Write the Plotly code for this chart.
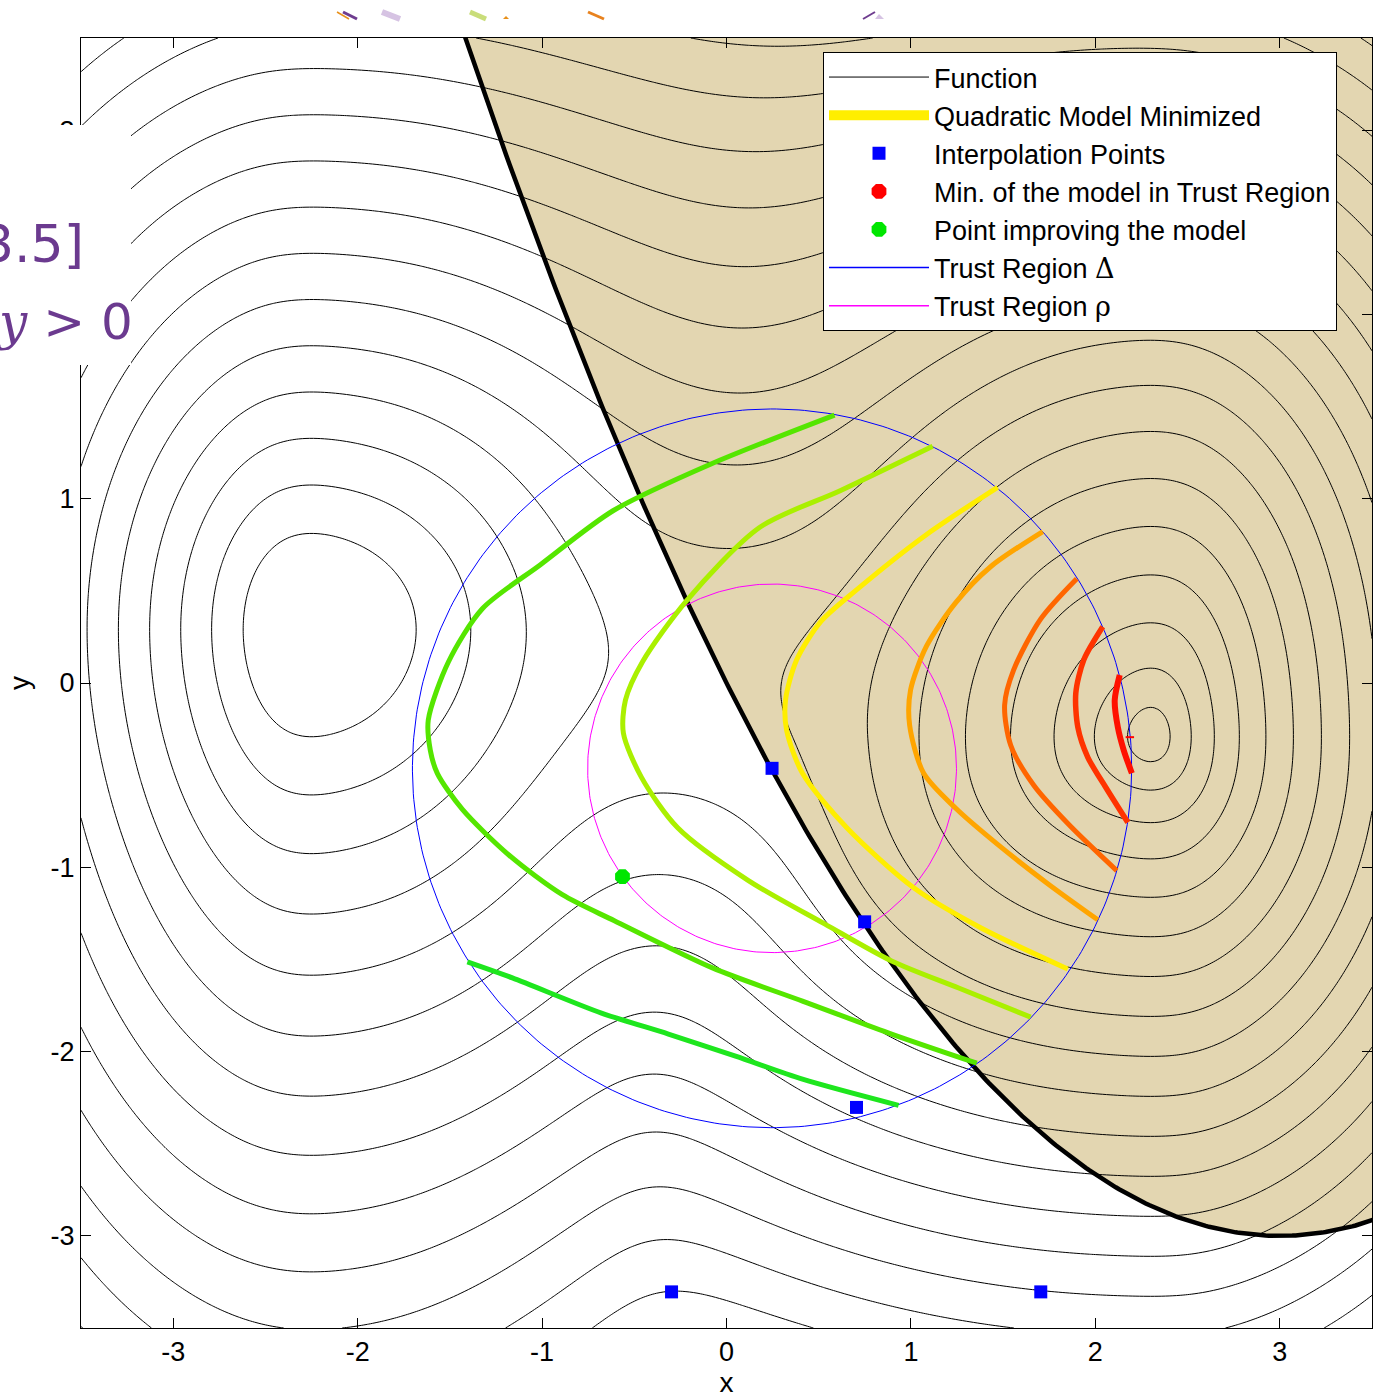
import numpy as np
import plotly.graph_objects as go

# ---------------- axes ----------------
x_range = [-3.5, 3.5]
y_range = [-3.5, 3.5]
tick_vals = [-3, -2, -1, 0, 1, 2, 3]
x_tick_text = ["-3", "-2", "-1", "0", "1", "2", "3"]
y_tick_text = ["-3", "-2", "-1", "0", "1", "", "3"]   # "2" is hidden behind the slide panel

# ---------------- objective function (contours) ----------------
left_center = [-2.25, 0.29]
left_scales = [0.68, 1.10, 1.10, 1.0]        # left, right(inward), down(near), up
left_inward_bottom = 0.80                    # inward scale far below the well
left_down_far = 1.25
left_base = 2.84
left_slope = 4.0
left_flat = 0.33
right_center = [2.30, -0.29]
right_scales = [0.25, 0.154, 0.217, 0.303]   # left(inward), right, down, up
right_inward_top = 0.22
right_inward_bottom = 0.30
right_up_bend = 0.06
saddle_center = [-0.1, 0.05]
saddle_soft = [0.7, 3.5]                     # softmin temperature far / at saddle
saddle_width = 1.3
top_soft = 1.6                               # extra smoothing of the ridge towards the top
top_soft_from = 1.1
contour_start, contour_end, contour_step = 1, 30, 1

# ---------------- constraint (shaded feasible region) ----------------
constraint_vertex = [3.0, -3.0]
constraint_coef = 1.0 / 3.0

# ---------------- trust region ----------------
tr_center = [0.247, -0.463]
tr_delta = 1.95
tr_rho = 1.0

interp_x = [0.247, 0.749, 0.705, -0.298, 1.704]
interp_y = [-0.463, -1.296, -2.303, -3.304, -3.304]
improve_x = [-0.564]
improve_y = [-1.051]
modelmin_x = [2.187]
modelmin_y = [-0.294]

# ---------------- quadratic-model level arcs (inside trust region) ----------------
arc_colors = ["#1EE61E", "#55E600", "#AAF000", "#FFEE00", "#FFA500", "#FF6600", "#FF3300", "#FF1100"]
arc1_x = [-1.405, -1.161, -0.678, -0.315, 0.049, 0.412, 0.933]
arc1_y = [-1.513, -1.600, -1.791, -1.905, -2.025, -2.150, -2.292]
arc2_x = [0.586, -0.087, -0.613, -1.009, -1.324, -1.508, -1.617, -1.606, -1.568, -1.432, -1.177, -0.890, -0.608, -0.076, 0.412, 0.895, 1.357]
arc2_y = [1.454, 1.187, 0.936, 0.642, 0.403, 0.114, -0.201, -0.365, -0.490, -0.686, -0.936, -1.149, -1.290, -1.546, -1.726, -1.905, -2.063]
arc3_x = [1.118, 0.619, 0.179, -0.217, -0.456, -0.548, -0.559, -0.461, -0.266, 0.119, 0.532, 0.895, 1.259, 1.649]
arc3_y = [1.285, 1.045, 0.844, 0.446, 0.114, -0.093, -0.272, -0.512, -0.784, -1.072, -1.307, -1.508, -1.655, -1.813]
arc4_x = [1.470, 1.085, 0.700, 0.510, 0.380, 0.320, 0.326, 0.412, 0.651, 1.015, 1.378, 1.850]
arc4_y = [1.062, 0.806, 0.501, 0.332, 0.125, -0.093, -0.256, -0.490, -0.784, -1.111, -1.328, -1.552]
arc5_x = [1.715, 1.432, 1.243, 1.085, 0.998, 0.993, 1.069, 1.243, 1.470, 1.742, 2.013]
arc5_y = [0.822, 0.631, 0.436, 0.201, -0.038, -0.229, -0.490, -0.680, -0.876, -1.089, -1.285]
arc6_x = [1.899, 1.704, 1.557, 1.508, 1.541, 1.666, 1.856, 2.116]
arc6_y = [0.566, 0.348, 0.071, -0.120, -0.338, -0.555, -0.768, -1.018]
arc7_x = [2.040, 1.937, 1.894, 1.905, 1.959, 2.056, 2.176]
arc7_y = [0.305, 0.125, -0.054, -0.240, -0.403, -0.566, -0.757]
arc8_x = [2.132, 2.105, 2.122, 2.154, 2.198]
arc8_y = [0.044, -0.093, -0.240, -0.365, -0.490]
arcs_x = [arc1_x, arc2_x, arc3_x, arc4_x, arc5_x, arc6_x, arc7_x, arc8_x]
arcs_y = [arc1_y, arc2_y, arc3_y, arc4_y, arc5_y, arc6_y, arc7_y, arc8_y]
arc_widths = [5, 5, 5, 5, 5, 5, 5.5, 6]

legend_names = [
    "Function",
    "Quadratic Model Minimized",
    "Interpolation Points",
    "Min. of the model in Trust Region",
    "Point improving the model",
    "Trust Region <span style=\"font-family:'DejaVu Serif'\">\u0394</span>",
    "Trust Region <span style=\"font-family:'DejaVu Serif'\">\u03c1</span>",
]

TAN = "#E3D6B1"
FONT = "Liberation Sans, Arial, sans-serif"


def blend(v, neg, pos, w=0.3):
    return neg + (pos - neg) * 0.5 * (1.0 + np.tanh(v / w))


gx = np.linspace(x_range[0], x_range[1], 351)
gy = np.linspace(y_range[0], y_range[1], 351)
X, Y = np.meshgrid(gx, gy)

# left (shallow, flat-bottomed) well
d1x, d1y = X - left_center[0], Y - left_center[1]
dn1 = np.minimum(d1y, 0.0)
below_near = 1.0 - np.exp(-(dn1 / 1.5) ** 2)
below_far = 1.0 - np.exp(-(dn1 / 3.0) ** 4)
s1_in = left_scales[1] - (left_scales[1] - left_inward_bottom) * below_far
s1_dn = left_scales[2] + (left_down_far - left_scales[2]) * below_near
s1x = blend(d1x, left_scales[0], s1_in)
s1y = blend(d1y, s1_dn, left_scales[3])
r1 = np.sqrt((d1x / s1x) ** 2 + (d1y / s1y) ** 2)
U1 = left_base + left_slope * (r1 ** 4 + left_flat ** 4) ** 0.25

# right (deep, cone-like) well
d2x, d2y = X - right_center[0], Y - right_center[1]
far2 = 1.0 - np.exp(-(d2y / 1.5) ** 2)
s2_far = np.where(d2y > 0, right_inward_top, right_inward_bottom)
s2_in = right_scales[0] + (s2_far - right_scales[0]) * far2
d2y_w = np.where(d2y > 0, d2y * (1 + right_up_bend * d2y), d2y)
s2x = blend(d2x, s2_in, right_scales[1])
s2y = blend(d2y, right_scales[2], right_scales[3])
r2 = np.sqrt((d2x / s2x) ** 2 + (d2y_w / s2y) ** 2)
U2 = r2 + 1.0 - np.exp(-r2)

# smooth minimum of the two wells (wider smoothing near the saddle and the top)
T = saddle_soft[0] + top_soft * 0.5 * (1 + np.tanh((Y - top_soft_from) / 0.7)) + \
    (saddle_soft[1] - saddle_soft[0]) * np.exp(
        -((X - saddle_center[0]) ** 2 + (Y - saddle_center[1]) ** 2) / saddle_width ** 2)
F = -T * np.logaddexp(-U1 / T, -U2 / T)

fig = go.Figure()

# feasible region boundary
cx = np.linspace(-1.7, 3.7, 300)
cy = constraint_coef * (cx - constraint_vertex[0]) ** 2 + constraint_vertex[1]
tan_path = "M " + " L ".join("%.4f,%.4f" % (a, b) for a, b in zip(cx, cy))
tan_path += " L %.4f,%.4f L %.4f,%.4f Z" % (cx[-1], y_range[1] + 0.5, cx[0], y_range[1] + 0.5)

fig.add_trace(go.Contour(
    x=gx, y=gy, z=F, autocontour=False,
    contours=dict(start=contour_start, end=contour_end, size=contour_step, coloring="none"),
    line=dict(color="black", width=1, smoothing=1.0),
    showscale=False, hoverinfo="skip", showlegend=False))

fig.add_trace(go.Scatter(x=cx, y=cy, mode="lines", line=dict(color="black", width=4.5),
                         showlegend=False, hoverinfo="skip"))

theta = np.linspace(0, 2 * np.pi, 400)
fig.add_trace(go.Scatter(x=tr_center[0] + tr_delta * np.cos(theta), y=tr_center[1] + tr_delta * np.sin(theta),
                         mode="lines", line=dict(color="#0000FF", width=1), showlegend=False, hoverinfo="skip"))
fig.add_trace(go.Scatter(x=tr_center[0] + tr_rho * np.cos(theta), y=tr_center[1] + tr_rho * np.sin(theta),
                         mode="lines", line=dict(color="#FF00FF", width=1), showlegend=False, hoverinfo="skip"))

for ax_, ay_, col, w in zip(arcs_x, arcs_y, arc_colors, arc_widths):
    fig.add_trace(go.Scatter(x=ax_, y=ay_, mode="lines", line=dict(color=col, width=w, shape="spline", smoothing=0.8),
                             showlegend=False, hoverinfo="skip"))

fig.add_trace(go.Scatter(x=interp_x, y=interp_y, mode="markers",
                         marker=dict(symbol="square", size=13, color="#0000FF"), showlegend=False))
fig.add_trace(go.Scatter(x=improve_x, y=improve_y, mode="markers",
                         marker=dict(symbol="octagon", size=16, color="#00E600"), showlegend=False))
fig.add_trace(go.Scatter(x=modelmin_x, y=modelmin_y, mode="markers",
                         marker=dict(symbol="line-ew", size=6, line=dict(color="#FF0000", width=2)), showlegend=False))

# legend-only entries
fig.add_trace(go.Scatter(x=[None], y=[None], mode="lines", line=dict(color="black", width=1), name=legend_names[0]))
fig.add_trace(go.Scatter(x=[None], y=[None], mode="lines", line=dict(color="#FFEE00", width=10), name=legend_names[1]))
fig.add_trace(go.Scatter(x=[None], y=[None], mode="markers", marker=dict(symbol="square", size=13, color="#0000FF"), name=legend_names[2]))
fig.add_trace(go.Scatter(x=[None], y=[None], mode="markers", marker=dict(symbol="octagon", size=16, color="#FF0000"), name=legend_names[3]))
fig.add_trace(go.Scatter(x=[None], y=[None], mode="markers", marker=dict(symbol="octagon", size=16, color="#00E600"), name=legend_names[4]))
fig.add_trace(go.Scatter(x=[None], y=[None], mode="lines", line=dict(color="#0000FF", width=1.5), name=legend_names[5]))
fig.add_trace(go.Scatter(x=[None], y=[None], mode="lines", line=dict(color="#FF00FF", width=1.5), name=legend_names[6]))

W, H = 1376, 1398
ML, MR, MT, MB = 81, 4, 38, 70
PW, PH = W - ML - MR, H - MT - MB


def px(p):
    return (p - ML) / PW


def py(p):
    return (H - MB - p) / PH


axis_common = dict(tickvals=tick_vals, ticks="inside", ticklen=10,
                   tickcolor="black", showline=True, linecolor="black", linewidth=1, mirror="allticks",
                   showgrid=False, zeroline=False, tickfont=dict(size=27, family=FONT, color="black"))

xaxis = dict(axis_common, range=x_range, ticktext=x_tick_text,
             title=dict(text="x", font=dict(size=28, family=FONT, color="black"), standoff=8))
yaxis = dict(axis_common, range=y_range, ticktext=y_tick_text,
             title=dict(text="y", font=dict(size=28, family=FONT, color="black"), standoff=12))

shapes = [
    # feasible region (drawn beneath the contour lines)
    dict(type="path", xref="x", yref="y", path=tan_path, fillcolor=TAN, line=dict(width=0), layer="below"),
    # white panel of the slide overlapping the figure
    dict(type="rect", xref="paper", yref="paper", x0=px(-20), x1=px(131), y0=py(365), y1=py(125),
         fillcolor="white", line=dict(width=0), layer="above"),
]
frag_lines = [
    ((337, 12), (349, 19), "#E8901A", 1.5),
    ((343, 12), (357, 19), "#6E3C8F", 3),
    ((382, 12), (400, 19), "#D6C3E3", 6),
    ((470, 12), (486, 19), "#C9DD7A", 5),
    ((588, 12), (604, 19), "#E8821E", 3),
    ((863, 19), (875, 12), "#6E3C8F", 2),
]
for (a, b, col, wd) in frag_lines:
    shapes.append(dict(type="line", xref="paper", yref="paper", x0=px(a[0]), y0=py(a[1]), x1=px(b[0]), y1=py(b[1]),
                       line=dict(color=col, width=wd), layer="above"))
shapes.append(dict(type="path", xref="paper", yref="paper",
                   path="M %f %f L %f %f L %f %f Z" % (px(875), py(19), px(884), py(19), px(879), py(14)),
                   fillcolor="#D6C3E3", line=dict(width=0), layer="above"))
shapes.append(dict(type="path", xref="paper", yref="paper",
                   path="M %f %f L %f %f L %f %f Z" % (px(503), py(19), px(509), py(19), px(506), py(16)),
                   fillcolor="#E8901A", line=dict(width=0), layer="above"))

annotations = [
    dict(text="3.5]", xref="paper", yref="paper", x=px(86), y=py(244), xanchor="right", yanchor="middle",
         showarrow=False, font=dict(size=52, family="DejaVu Sans", color="#6B3A8F")),
    dict(text="<span style=\"font-family:'DejaVu Serif';font-style:italic\">y</span> &gt; 0",
         xref="paper", yref="paper", x=px(135), y=py(322), xanchor="right", yanchor="middle",
         showarrow=False, font=dict(size=50, family="DejaVu Sans", color="#6B3A8F")),
]

fig.update_layout(
    width=W, height=H, autosize=False,
    margin=dict(l=ML, r=MR, t=MT, b=MB, pad=0),
    paper_bgcolor="white", plot_bgcolor="white",
    xaxis=xaxis, yaxis=yaxis,
    showlegend=True,
    legend=dict(x=px(823), y=py(52), xanchor="left", yanchor="top", bgcolor="white",
                bordercolor="black", borderwidth=1, itemwidth=100, tracegroupgap=0,
                font=dict(size=27, family=FONT, color="black")),
    shapes=shapes, annotations=annotations,
)

fig.write_html("out.html")
